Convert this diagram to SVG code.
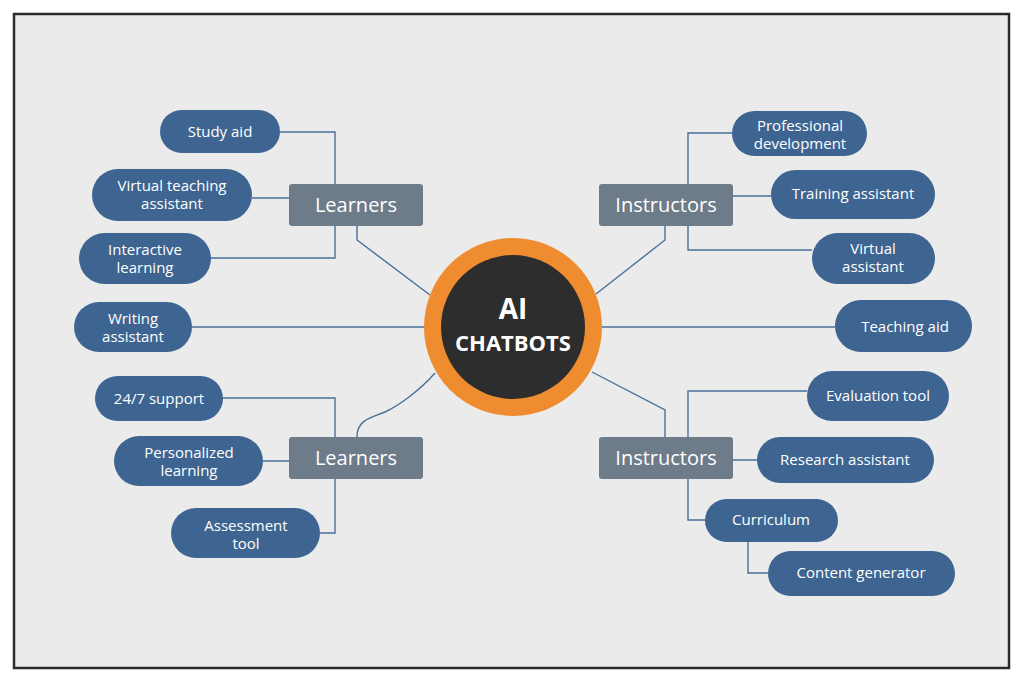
<svg xmlns="http://www.w3.org/2000/svg" width="1024" height="683" viewBox="0 0 1024 683">
<style>
.cat{fill:#6e7b89}
.leaf{fill:#3e6591}
.ct{font-family:"Open Sans","Liberation Sans",sans-serif;font-size:20px;fill:#fff;text-anchor:middle}
.lt{font-family:"Open Sans","Liberation Sans",sans-serif;font-size:15px;fill:#fff;text-anchor:middle}
#connectors path{fill:none;stroke:#4a6f99;stroke-width:1.4}
</style>
<rect width="1024" height="683" fill="#fff"/>
<rect x="14" y="14" width="995" height="654" fill="#ebebeb" stroke="#2b2b2b" stroke-width="2.5"/>
<g id="connectors">
<path d="M280 132H335V258H211M252 198H289M357 226V240L430 295"/>
<path d="M192 327H425"/>
<path d="M223 398H335V533H320M263 461H289M357 437C357 420 370 418 385 412C400 405 420 390 435 373"/>
<path d="M732 133H688V250H812M733 196H771M665 226V240L596 294"/>
<path d="M602 327H835"/>
<path d="M807 391H688V520H705M733 460H757M748 542V573H768M665 437V410L592 372"/>
</g>
<g id="center">
<circle cx="513" cy="327" r="89" fill="#ef8c2f"/>
<circle cx="513" cy="327" r="72" fill="#2d2d2d"/>
<text x="513" y="319" font-family="Open Sans,Liberation Sans,sans-serif" font-size="28" font-weight="bold" fill="#fff" text-anchor="middle">AI</text>
<text x="513" y="351" font-family="Open Sans,Liberation Sans,sans-serif" font-size="22" font-weight="bold" fill="#fff" text-anchor="middle">CHATBOTS</text>
</g>
<g id="learners-top"><rect class="cat" x="289" y="184" width="134" height="42" rx="3"/><text class="ct" x="356" y="212">Learners</text></g>
<g id="instructors-top"><rect class="cat" x="599" y="184" width="134" height="42" rx="3"/><text class="ct" x="666" y="212">Instructors</text></g>
<g id="learners-bottom"><rect class="cat" x="289" y="437" width="134" height="42" rx="3"/><text class="ct" x="356" y="465">Learners</text></g>
<g id="instructors-bottom"><rect class="cat" x="599" y="437" width="134" height="42" rx="3"/><text class="ct" x="666" y="465">Instructors</text></g>
<g id="study-aid"><rect class="leaf" x="160" y="110" width="120" height="43" rx="21.5"/><text class="lt" x="220" y="137">Study aid</text></g>
<g id="vta"><rect class="leaf" x="92" y="169" width="160" height="52" rx="26"/><text class="lt" x="172" y="191">Virtual teaching</text><text class="lt" x="172" y="209">assistant</text></g>
<g id="interactive"><rect class="leaf" x="79" y="233" width="132" height="51" rx="25.5"/><text class="lt" x="145" y="255">Interactive</text><text class="lt" x="145" y="273">learning</text></g>
<g id="writing"><rect class="leaf" x="74" y="302" width="118" height="50" rx="25"/><text class="lt" x="133" y="324">Writing</text><text class="lt" x="133" y="342">assistant</text></g>
<g id="support"><rect class="leaf" x="95" y="376" width="128" height="45" rx="22.5"/><text class="lt" x="159" y="404">24/7 support</text></g>
<g id="personalized"><rect class="leaf" x="114" y="436" width="149" height="50" rx="25"/><text class="lt" x="189" y="458">Personalized</text><text class="lt" x="189" y="476">learning</text></g>
<g id="assessment"><rect class="leaf" x="171" y="508" width="149" height="50" rx="25"/><text class="lt" x="246" y="531">Assessment</text><text class="lt" x="246" y="549">tool</text></g>
<g id="professional"><rect class="leaf" x="732" y="111" width="135" height="45" rx="22.5"/><text class="lt" x="800" y="131">Professional</text><text class="lt" x="800" y="149">development</text></g>
<g id="training"><rect class="leaf" x="771" y="170" width="164" height="49" rx="24.5"/><text class="lt" x="853" y="199">Training assistant</text></g>
<g id="virtual"><rect class="leaf" x="812" y="233" width="123" height="51" rx="25.5"/><text class="lt" x="873" y="254">Virtual</text><text class="lt" x="873" y="272">assistant</text></g>
<g id="teaching"><rect class="leaf" x="835" y="300" width="137" height="52" rx="26"/><text class="lt" x="905" y="332">Teaching aid</text></g>
<g id="evaluation"><rect class="leaf" x="807" y="371" width="142" height="50" rx="25"/><text class="lt" x="878" y="401">Evaluation tool</text></g>
<g id="research"><rect class="leaf" x="757" y="437" width="177" height="46" rx="23"/><text class="lt" x="845" y="465">Research assistant</text></g>
<g id="curriculum"><rect class="leaf" x="705" y="499" width="133" height="43" rx="21.5"/><text class="lt" x="771" y="525">Curriculum</text></g>
<g id="content"><rect class="leaf" x="768" y="551" width="187" height="45" rx="22.5"/><text class="lt" x="861" y="578">Content generator</text></g>
</svg>
